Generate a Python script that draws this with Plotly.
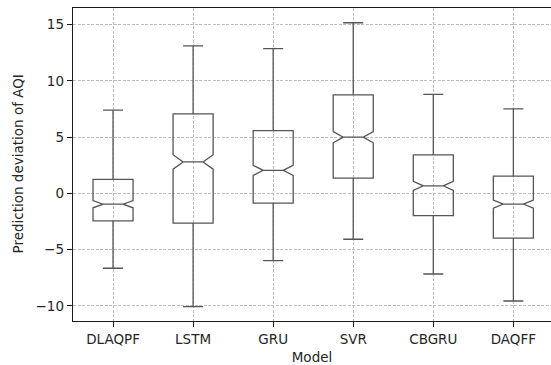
import plotly.graph_objects as go

models = ["DLAQPF", "LSTM", "GRU", "SVR", "CBGRU", "DAQFF"]
lower_whisker = [-6.66, -10.08, -5.98, -4.08, -7.17, -9.57]
q1 = [-2.45, -2.65, -0.87, 1.35, -1.98, -3.97]
median = [-0.96, 2.80, 2.05, 5.0, 0.67, -0.95]
q3 = [1.25, 7.08, 5.59, 8.77, 3.43, 1.53]
upper_whisker = [7.41, 13.13, 12.87, 15.18, 8.80, 7.52]
notch_half = [0.32, 0.64, 0.45, 0.50, 0.40, 0.36]
y_ticks = [-10, -5, 0, 5, 10, 15]

FONT = "DejaVu Sans"
LINE = "#555555"

fig = go.Figure()
fig.add_trace(go.Box(
    x=models,
    q1=q1, median=median, q3=q3,
    lowerfence=lower_whisker, upperfence=upper_whisker,
    notchspan=notch_half, notched=True, notchwidth=0.25,
    whiskerwidth=0.5, width=0.5,
    fillcolor="rgba(0,0,0,0)",
    line=dict(color=LINE, width=1.3),
    boxpoints=False,
    showlegend=False,
    hoverinfo="skip",
))

fig.update_layout(
    width=551, height=365,
    margin=dict(l=73, r=0, t=8, b=44),
    paper_bgcolor="white", plot_bgcolor="white",
    font=dict(family=FONT, size=13.5, color="#262626"),
    boxgap=0.5, boxgroupgap=0,
    xaxis=dict(
        type="category", range=[-0.5, 5.47], automargin=False,
        showline=True, mirror=True, linecolor="#1a1a1a", linewidth=1.3,
        showgrid=True, gridcolor="#bdbdbd", gridwidth=1, griddash="3px,1.5px",
        ticks="outside", ticklen=5, tickcolor="#1a1a1a",
        title=dict(text="Model", font=dict(size=13.5)),
        zeroline=False,
    ),
    yaxis=dict(
        range=[-11.35, 16.49], automargin=False,
        tickvals=y_ticks, ticktext=[("\u2212" + str(abs(v))) if v < 0 else str(v) for v in y_ticks],
        showline=True, mirror=False, linecolor="#1a1a1a", linewidth=1.3,
        showgrid=True, gridcolor="#bdbdbd", gridwidth=1, griddash="3px,1.5px",
        ticks="outside", ticklen=5, tickcolor="#1a1a1a",
        zeroline=False,
    ),
    annotations=[dict(
        text="Prediction deviation of AQI", textangle=-90,
        xref="paper", yref="paper", x=0, y=0.5,
        xanchor="center", yanchor="middle", xshift=-56,
        showarrow=False, font=dict(size=13.5, color="#262626"),
    )],
)

fig.write_html(
    "out.html",
    config={"displayModeBar": False, "staticPlot": True},
    post_script="document.body.style.margin='0';document.body.style.overflow='hidden';",
)
